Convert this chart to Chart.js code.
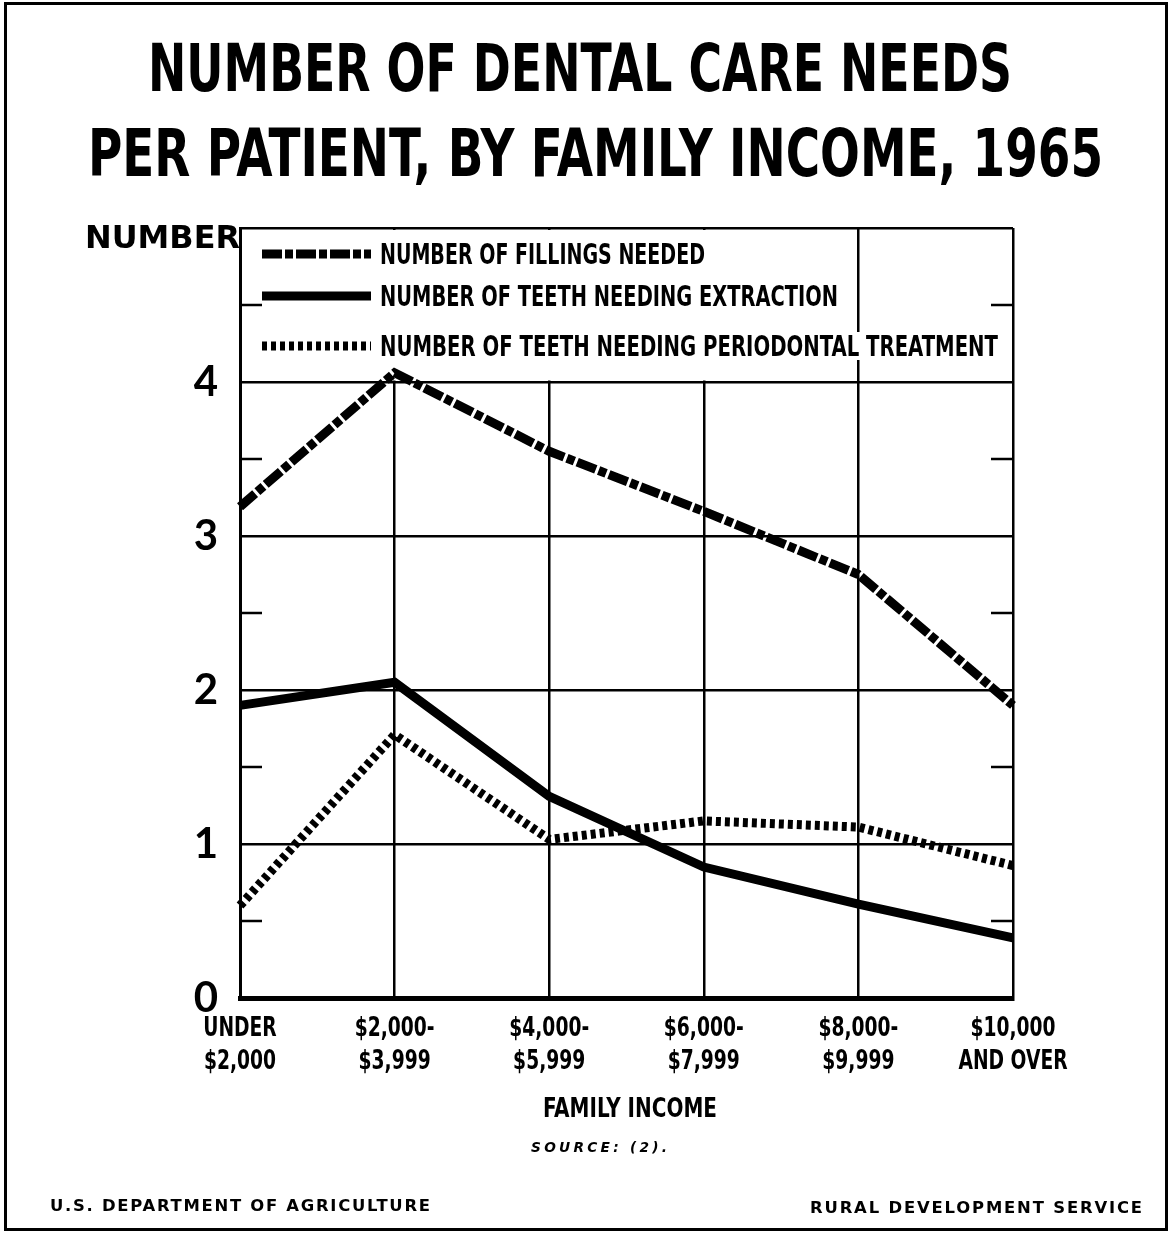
<!DOCTYPE html>
<html>
<head>
<meta charset="utf-8">
<script src="https://cdn.jsdelivr.net/npm/chart.js@4.4.0/dist/chart.umd.min.js"></script>
<style>
html,body{margin:0;padding:0;background:#fff;}
#wrap{position:relative;width:1171px;height:1235px;overflow:hidden;background:#fff;}
#frame{position:absolute;left:4px;top:2px;width:1164px;height:1229px;border:3px solid #000;box-sizing:border-box;}
#chart{position:absolute;left:0;top:0;}
.t{position:absolute;white-space:nowrap;transform-origin:0 0;color:#000;line-height:1;}
</style>
</head>
<body>
<div id="wrap">
  <div id="frame"></div>
  <canvas id="chart" width="1171" height="1235"></canvas>
</div>
<script>
// ---------- data ----------
const categories = [
  ['UNDER', '$2,000'],
  ['$2,000-', '$3,999'],
  ['$4,000-', '$5,999'],
  ['$6,000-', '$7,999'],
  ['$8,000-', '$9,999'],
  ['$10,000', 'AND OVER']
];
const fillingsNeeded   = [3.19, 4.06, 3.55, 3.16, 2.75, 1.90];
const teethExtraction  = [1.90, 2.05, 1.31, 0.85, 0.61, 0.39];
const teethPeriodontal = [0.60, 1.71, 1.03, 1.15, 1.11, 0.86];
const seriesNames = [
  'NUMBER OF FILLINGS NEEDED',
  'NUMBER OF TEETH NEEDING EXTRACTION',
  'NUMBER OF TEETH NEEDING PERIODONTAL TREATMENT'
];
const yTickLabels = [0, 1, 2, 3, 4];
const yMin = 0, yMax = 5, yStep = 0.5;
const titleLines = ['NUMBER OF DENTAL CARE NEEDS', 'PER PATIENT, BY FAMILY INCOME, 1965'];
const yAxisTitle = 'NUMBER';
const xAxisTitle = 'FAMILY INCOME';
const sourceNote = 'SOURCE: (2).';
const footerLeft = 'U.S. DEPARTMENT OF AGRICULTURE';
const footerRight = 'RURAL DEVELOPMENT SERVICE';

// ---------- text helpers ----------
const NARROW = '"DejaVu Sans Condensed", "Liberation Sans Narrow", sans-serif';
const mctx = document.createElement('canvas').getContext('2d');
function metrics(fontSpec) {
  mctx.font = fontSpec;
  const m = mctx.measureText('H');
  return { capA: m.actualBoundingBoxAscent, A: m.fontBoundingBoxAscent, D: m.fontBoundingBoxDescent };
}
// place text so that its capital letters start at capTop with height capH and span width w
function place(text, o) {
  const el = document.createElement('div');
  el.className = 't';
  el.textContent = text;
  const style = o.style || 'normal', weight = o.weight || 'bold', fam = o.family || NARROW;
  const m100 = metrics(`${style} ${weight} 100px ${fam}`);
  const F = o.capH / (m100.capA / 100);
  const fontSpec = `${style} ${weight} ${F}px ${fam}`;
  const m = metrics(fontSpec);
  mctx.font = fontSpec;
  const w = mctx.measureText(text).width;
  const baselineOffset = (F - (m.A + m.D)) / 2 + m.A;
  const top = o.capTop - (baselineOffset - m.capA);
  el.style.font = fontSpec;
  el.style.lineHeight = F + 'px';
  el.style.top = top + 'px';
  if (o.bg) el.style.background = o.bg;
  if (o.mode === 'ls') {
    el.style.letterSpacing = ((o.w - w) / (text.length - 1)) + 'px';
  } else {
    el.style.transform = `scaleX(${o.w / w})`;
  }
  el.style.left = o.x + 'px';
  document.getElementById('wrap').appendChild(el);
  return el;
}

place(titleLines[0], { x: 148, capTop: 42, capH: 48, w: 864 });
place(titleLines[1], { x: 88, capTop: 127, capH: 48, w: 1015 });
place(yAxisTitle, { x: 85, capTop: 226, capH: 23, w: 155, family: '"DejaVu Sans", sans-serif' });
place(xAxisTitle, { x: 543, capTop: 1097, capH: 20, w: 174 });
place(sourceNote, { x: 531, capTop: 1143, capH: 10, w: 136, style: 'italic', mode: 'ls', family: '"DejaVu Sans", sans-serif' });
place(footerLeft, { x: 50, capTop: 1200, capH: 12, w: 380, weight: 'bold', mode: 'ls', family: '"DejaVu Sans", sans-serif' });
place(footerRight, { x: 810, capTop: 1202, capH: 12, w: 332, weight: 'bold', mode: 'ls', family: '"DejaVu Sans", sans-serif' });
// legend labels
place(seriesNames[0], { x: 380, capTop: 243, capH: 21, w: 325, bg: '#fff' });
place(seriesNames[1], { x: 380, capTop: 285, capH: 21, w: 458, bg: '#fff' });
place(seriesNames[2], { x: 380, capTop: 335, capH: 21, w: 618, bg: '#fff' });

// ---------- chart ----------
const legendRowsY = [254, 296, 346];
const xLabelScale = 0.77;   // condense the x tick labels horizontally

const decor = {
  id: 'decor',
  beforeDraw(chart) {
    // draw x tick labels horizontally condensed (same items that Chart.js computed)
    const xs = chart.scales.x;
    if (!xs || xs._condensed) return;
    xs._condensed = true;
    const orig = xs.drawLabels;
    const origArea = xs._computeLabelArea;
    xs._computeLabelArea = function () {
      const r = origArea ? origArea.call(this) : undefined;
      if (r && this._scalingLabels) { r.left /= xLabelScale; r.right /= xLabelScale; }
      return r;
    };
    xs.drawLabels = function (area) {
      const items = this.getLabelItems(area);
      const saved = items.map(it => it.options.translation);
      items.forEach(it => { it.options.translation = [it.options.translation[0] / xLabelScale, it.options.translation[1]]; });
      this._scalingLabels = true;
      this.ctx.save();
      this.ctx.scale(xLabelScale, 1);
      orig.call(this, area);
      this.ctx.restore();
      this._scalingLabels = false;
      items.forEach((it, i) => { it.options.translation = saved[i]; });
    };
  },
  beforeDatasetsDraw(chart) {
    const { ctx, chartArea: a, scales: { x, y } } = chart;
    ctx.save();
    // upper part of inner vertical grid lines is absent behind the legend
    const yTop = y.getPixelForValue(yMax), y4 = y.getPixelForValue(4);
    const x0 = x.getPixelForValue(0), x4 = x.getPixelForValue(4);
    ctx.fillStyle = '#fff';
    ctx.fillRect(x0 + 2, yTop + 2, x4 - x0 - 4, y4 - 1.5 - (yTop + 2));
    // half-unit tick marks on both sides
    ctx.strokeStyle = '#000';
    ctx.lineWidth = 2.5;
    for (let v = yMin + yStep; v < yMax; v += yStep * 2) {
      const py = y.getPixelForValue(v);
      ctx.beginPath();
      ctx.moveTo(a.left, py); ctx.lineTo(a.left + 22, py);
      ctx.moveTo(a.right - 22, py); ctx.lineTo(a.right, py);
      ctx.stroke();
    }
    ctx.restore();
  },
  afterDatasetsDraw(chart) {
    const { ctx, chartArea: a } = chart;
    ctx.save();
    chart.data.datasets.forEach((ds, i) => {
      const ry = legendRowsY[i];
      ctx.strokeStyle = ds.borderColor;
      ctx.lineWidth = ds.borderWidth;
      ctx.setLineDash(ds.borderDash || []);
      ctx.lineCap = 'butt';
      ctx.beginPath();
      ctx.moveTo(a.left + 22, ry);
      ctx.lineTo(a.left + 131, ry);
      ctx.stroke();
    });
    ctx.restore();
  }
};

new Chart(document.getElementById('chart'), {
  type: 'line',
  data: {
    labels: categories,
    datasets: [
      { label: seriesNames[0], data: fillingsNeeded, borderColor: '#000', borderWidth: 9, borderDash: [20, 3, 8, 3] },
      { label: seriesNames[1], data: teethExtraction, borderColor: '#000', borderWidth: 9 },
      { label: seriesNames[2], data: teethPeriodontal, borderColor: '#000', borderWidth: 9, borderDash: [5, 4] }
    ]
  },
  options: {
    responsive: false,
    animation: false,
    devicePixelRatio: 1,
    layout: { padding: { top: 228, right: 158, left: 0, bottom: 0 } },
    elements: { point: { radius: 0 }, line: { tension: 0, borderCapStyle: 'butt', borderJoinStyle: 'miter', fill: false } },
    plugins: { legend: { display: false }, title: { display: false }, tooltip: { enabled: false } },
    scales: {
      x: {
        type: 'category',
        offset: false,
        afterFit(s) { s.height = 237; },
        grid: { color: '#000', lineWidth: 2.5, drawTicks: false },
        border: { display: true, color: '#000', width: 5 },
        ticks: {
          color: '#000', padding: 15, maxRotation: 0, autoSkip: false,
          font: { family: NARROW, weight: 'bold', size: 27, lineHeight: 1.22 }
        }
      },
      y: {
        min: yMin, max: yMax,
        afterFit(s) { s.width = 240; },
        grid: {
          color: (c) => Number.isInteger(c.tick.value) ? '#000' : 'rgba(0,0,0,0)',
          lineWidth: 2.5, drawTicks: false
        },
        border: { display: true, color: '#000', width: 3 },
        ticks: {
          stepSize: yStep, color: '#000', padding: 22,
          font: { family: 'Lato, "DejaVu Sans", sans-serif', size: 42, weight: 'bold' },
          callback: (v) => yTickLabels.includes(v) ? String(v) : ''
        }
      }
    }
  },
  plugins: [decor]
});
</script>
</body>
</html>
